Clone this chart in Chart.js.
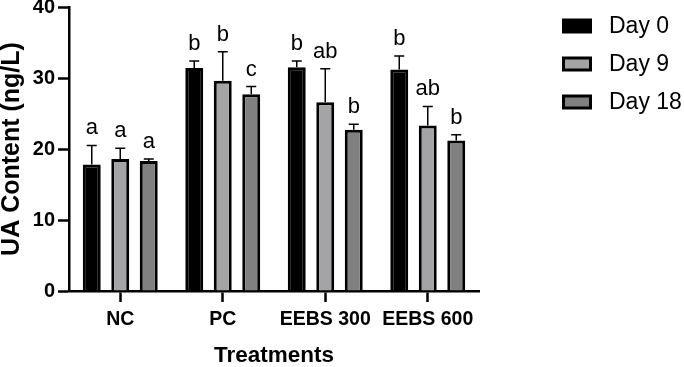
<!DOCTYPE html>
<html>
<head>
<meta charset="utf-8">
<script src="https://cdn.jsdelivr.net/npm/chart.js@4"></script>
<style>
  body { margin: 0; background: #fff; }
  canvas { display: block; }
</style>
</head>
<body>
<canvas id="graficoUA" width="684" height="367"></canvas>
<script>
const categorias = ['NC', 'PC', 'EEBS 300', 'EEBS 600'];
const nomesSeries = ['Day 0', 'Day 9', 'Day 18'];
const dia0 = [17.8, 31.4, 31.5, 31.2];
const dia9 = [18.6, 29.6, 26.6, 23.3];
const dia18 = [18.3, 27.7, 22.7, 21.2];
const erroDia0 = [2.7, 1.0, 0.9, 1.9];
const erroDia9 = [1.5, 4.1, 4.7, 2.7];
const erroDia18 = [0.3, 1.1, 0.8, 0.8];
const letrasDia0 = ['a', 'b', 'b', 'b'];
const letrasDia9 = ['a', 'b', 'ab', 'ab'];
const letrasDia18 = ['a', 'c', 'b', 'b'];
const yTicks = [0, 10, 20, 30, 40];

const fonte = 'Arial, "Liberation Sans", sans-serif';
const erros = [erroDia0, erroDia9, erroDia18];
const letras = [letrasDia0, letrasDia9, letrasDia18];

// error bars, letters and legend drawn on top of the bars
const extras = {
    id: 'extras',
    afterDatasetsDraw(chart) {
        const ctx = chart.ctx;
        const y = chart.scales.y;
        ctx.save();
        chart.data.datasets.forEach((ds, i) => {
            const meta = chart.getDatasetMeta(i);
            meta.data.forEach((bar, j) => {
                const topo = y.getPixelForValue(ds.data[j] + erros[i][j]);
                ctx.strokeStyle = '#000';
                ctx.lineWidth = 1.5;
                ctx.beginPath();
                ctx.moveTo(bar.x, bar.y);
                ctx.lineTo(bar.x, topo);
                ctx.moveTo(bar.x - 5, topo);
                ctx.lineTo(bar.x + 5, topo);
                ctx.stroke();

                ctx.fillStyle = '#000';
                ctx.font = '22px ' + fonte;
                ctx.textAlign = 'center';
                ctx.textBaseline = 'alphabetic';
                ctx.fillText(letras[i][j], bar.x, topo - 11);
            });
        });

        // legend
        chart.data.datasets.forEach((ds, i) => {
            const cy = 26 + i * 38;
            ctx.fillStyle = '#000';
            ctx.fillRect(562, cy - 7.5, 30, 15);
            ctx.fillStyle = ds.backgroundColor;
            ctx.fillRect(565, cy - 4.5, 24, 9);
            ctx.fillStyle = '#000';
            ctx.font = '23px ' + fonte;
            ctx.textAlign = 'left';
            ctx.textBaseline = 'middle';
            ctx.fillText(ds.label, 609, cy + 1);
        });
        ctx.restore();
    }
};

const dadosGrafico = {
    labels: categorias,
    datasets: [
        { label: nomesSeries[0], data: dia0, backgroundColor: '#000000' },
        { label: nomesSeries[1], data: dia9, backgroundColor: '#a4a4a7' },
        { label: nomesSeries[2], data: dia18, backgroundColor: '#808080' }
    ].map(d => Object.assign(d, {
        borderColor: '#000',
        borderWidth: 3,
        barPercentage: 0.63,
        categoryPercentage: 0.834
    }))
};

new Chart(document.getElementById('graficoUA'), {
    type: 'bar',
    data: dadosGrafico,
    plugins: [extras],
    options: {
        responsive: false,
        animation: false,
        layout: { padding: { left: 0, top: 7, right: 205, bottom: 0 } },
        plugins: { legend: { display: false }, tooltip: { enabled: false } },
        scales: {
            x: {
                grid: { offset: false, drawOnChartArea: false, drawTicks: true, tickLength: 11, tickWidth: 2.5, tickColor: '#000' },
                border: { display: true, color: '#000', width: 2.5 },
                ticks: { color: '#000', font: { family: fonte, size: 19.5, weight: 'bold' }, padding: 6, maxRotation: 0 },
                title: { display: true, text: 'Treatments', color: '#000', font: { family: fonte, size: 22.5, weight: 'bold', lineHeight: 1 }, padding: { top: 0, bottom: 0 } },
                afterFit(s) { s.height = 76; s.paddingLeft = 0; s.paddingRight = 0; }
            },
            y: {
                min: 0,
                max: 40,
                afterBuildTicks(s) { s.ticks = yTicks.map(v => ({ value: v })); },
                grid: { drawOnChartArea: false, drawTicks: true, tickLength: 11, tickWidth: 2.5, tickColor: '#000' },
                border: { display: true, color: '#000', width: 2.5 },
                ticks: { color: '#000', font: { family: fonte, size: 20, weight: 'bold' }, padding: 3 },
                title: { display: true, text: 'UA Content (ng/L)', color: '#000', font: { family: fonte, size: 25, weight: 'bold', lineHeight: 1 }, padding: { top: 0, bottom: 0 } },
                afterFit(s) { s.width = 69; s.paddingTop = 0; s.paddingBottom = 0; }
            }
        }
    }
});
</script>
</body>
</html>
